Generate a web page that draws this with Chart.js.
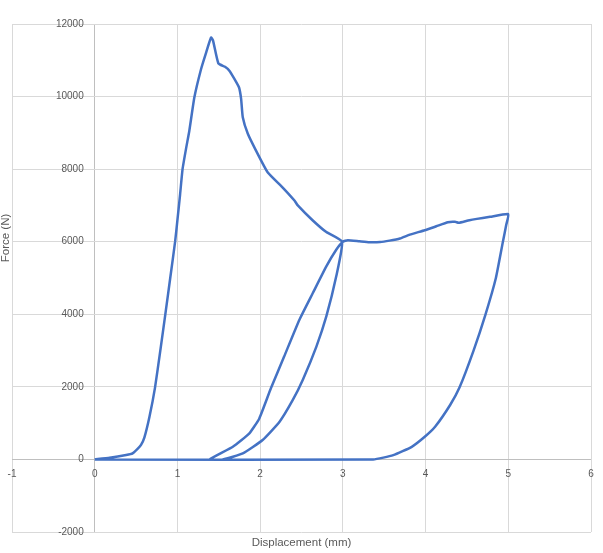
<!DOCTYPE html>
<html>
<head>
<meta charset="utf-8">
<title>Force vs Displacement</title>
<script src="https://cdn.jsdelivr.net/npm/chart.js@4/dist/chart.umd.min.js"></script>
<style>
    html, body { margin: 0; padding: 0; background: #ffffff; }
    #chartBox { position: relative; width: 603px; height: 553px; }
</style>
</head>
<body>
<div id="chartBox"><canvas id="forceChart" width="603" height="553"></canvas></div>
<script>
"use strict";

// displacement (mm) and force (N) in drawing order
var displacement = [
    0, 0.18, 0.38, 0.458, 0.518, 0.56, 0.6, 0.662, 0.729, 0.793, 0.854, 0.913, 0.972, 1.002, 1.032, 1.062, 1.107, 1.144,
    1.205, 1.286, 1.345, 1.407, 1.43, 1.495, 1.575, 1.628, 1.689, 1.745, 1.77, 1.79, 1.85, 1.95, 2.09, 2.27,
    2.415, 2.455, 2.637, 2.8, 2.99,
    2.92, 2.8, 2.68, 2.515, 2.395, 2.235, 2.03, 1.79, 1.55, 1.39,
    1.67, 1.87, 1.99, 2.13, 2.29, 2.475, 2.637, 2.8, 2.92, 3.0,
    3.06, 3.2, 3.32, 3.45, 3.565, 3.69, 3.81, 3.99, 4.13, 4.27, 4.357, 4.4, 4.53, 4.78, 5.0,
    4.976, 4.935, 4.85, 4.725, 4.58, 4.41, 4.297, 4.115, 3.99, 3.833, 3.61, 3.367, 0
];
var force = [
    0, 45, 120, 165, 290, 400, 600, 1175, 1980, 3000, 4005, 5000, 6000, 6640, 7300, 8000, 8600, 9060,
    9980, 10760, 11200, 11630, 11550, 10915, 10820, 10713, 10485, 10250, 9935, 9430, 8980, 8510, 7915, 7500,
    7135, 7000, 6585, 6265, 6000,
    5045, 3940, 3110, 2190, 1640, 1040, 535, 165, 0, 0,
    350, 720, 1130, 1960, 2835, 3850, 4585, 5320, 5780, 6000,
    6040, 6010, 5985, 5990, 6030, 6090, 6196, 6315, 6425, 6536, 6547, 6520, 6591, 6685, 6760,
    6472, 6000, 5000, 4000, 3000, 1980, 1500, 900, 624, 348, 119, 0, 0
];

var xTickLabels = ["-1", "0", "1", "2", "3", "4", "5", "6"];
var yTickLabels = ["-2000", "0", "2000", "4000", "6000", "8000", "10000", "12000"];

var xTitle = "Displacement (mm)";
var yTitle = "Force (N)";

var TEXT_COLOR = "#595959";
var FONT_NAME = "'Liberation Sans', Arial, sans-serif";

function buildPoints()
{
    var points = [];
    displacement.forEach(function(x, i)
    {
        points.push({ x: x, y: force[i] });
    });
    return points;
}

function gridColor(ctx)
{
    return (ctx.tick && ctx.tick.value === 0) ? "#bfbfbf" : "#d9d9d9";
}

// Excel style: tick labels sit on the axes crossing at zero, titles at the edges
var axisLabelPlugin =
{
    id: "axisLabels",
    afterDraw: function(chart)
    {
        var ctx = chart.ctx;
        var xScale = chart.scales.x;
        var yScale = chart.scales.y;
        var xZero = xScale.getPixelForValue(0);
        var yZero = yScale.getPixelForValue(0);

        ctx.save();
        ctx.fillStyle = TEXT_COLOR;
        ctx.font = "10px " + FONT_NAME;

        ctx.textAlign = "right";
        ctx.textBaseline = "middle";
        yTickLabels.forEach(function(label)
        {
            ctx.fillText(label, xZero - 11, yScale.getPixelForValue(Number(label)));
        });

        ctx.textAlign = "center";
        xTickLabels.forEach(function(label)
        {
            ctx.fillText(label, xScale.getPixelForValue(Number(label)), yZero + 15);
        });

        ctx.font = "11.5px " + FONT_NAME;
        ctx.fillText(xTitle, (chart.chartArea.left + chart.chartArea.right) / 2, 543);

        ctx.translate(6, 238);
        ctx.rotate(-Math.PI / 2);
        ctx.fillText(yTitle, 0, 0);
        ctx.restore();
    }
};

var chart = new Chart(document.getElementById("forceChart").getContext("2d"),
{
    type: "scatter",
    data:
    {
        datasets: [
        {
            data: buildPoints(),
            showLine: true,
            borderColor: "#4472c4",
            borderWidth: 2.5,
            pointRadius: 0,
            tension: 0.15,
            fill: false
        }]
    },
    options:
    {
        responsive: false,
        animation: false,
        layout: { padding: { left: 12, right: 12, top: 24, bottom: 21 } },
        plugins:
        {
            legend: { display: false },
            tooltip: { enabled: false }
        },
        scales:
        {
            x:
            {
                type: "linear",
                min: -1,
                max: 6,
                ticks: { display: false, stepSize: 1 },
                grid: { color: gridColor, drawTicks: false, tickLength: 0 },
                border: { display: false }
            },
            y:
            {
                type: "linear",
                min: -2000,
                max: 12000,
                ticks: { display: false, stepSize: 2000 },
                grid: { color: gridColor, drawTicks: false, tickLength: 0 },
                border: { display: false }
            }
        }
    },
    plugins: [axisLabelPlugin]
});
</script>
</body>
</html>
